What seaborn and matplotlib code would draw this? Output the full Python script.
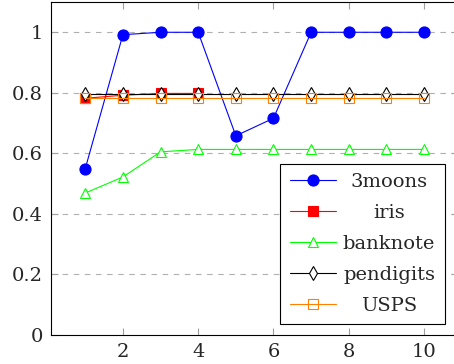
"""Accuracy per iteration for several datasets (pgfplots-style line chart)."""
import matplotlib
matplotlib.use("Agg")
import matplotlib.pyplot as plt
from matplotlib.transforms import Bbox
import seaborn as sns

x_vals = [1, 2, 3, 4, 5, 6, 7, 8, 9, 10]
moons = [0.55, 0.992, 1.0, 1.0, 0.658, 0.716, 1.0, 1.0, 1.0, 1.0]
iris_x = [1, 2, 3, 4]
iris = [0.782, 0.792, 0.798, 0.798]
banknote = [0.469, 0.522, 0.605, 0.613, 0.613, 0.613, 0.613, 0.613, 0.613, 0.613]
pendigits = [0.797] * 10
usps = [0.782] * 10
y_ticks = [0, 0.2, 0.4, 0.6, 0.8, 1]
y_labels = ["0", "0.2", "0.4", "0.6", "0.8", "1"]
x_ticks = [2, 4, 6, 8, 10]

sns.set_style("ticks")
plt.rcParams["font.family"] = ["DejaVu Serif"]
plt.rcParams["font.size"] = 14

fig = plt.figure(figsize=(4.54, 3.64), dpi=100)
ax = fig.add_axes([51.4 / 454, 29 / 364, 406.5 / 454, 333 / 364])

series = [
    ("3moons", x_vals, moons, dict(color="#0000ff", marker="o", markersize=8,
                                   markerfacecolor="#0000ff", markeredgecolor="#0000ff")),
    ("iris", iris_x, iris, dict(color="#ff0000", marker="s", markersize=7,
                                markerfacecolor="#ff0000", markeredgecolor="#ff0000")),
    ("banknote", x_vals, banknote, dict(color="#00ff00", marker="^", markersize=7,
                                        markerfacecolor="white", markeredgecolor="#00ff00")),
    ("pendigits", x_vals, pendigits, dict(color="black", marker="d", markersize=7,
                                          markerfacecolor="white", markeredgecolor="black")),
    ("USPS", x_vals, usps, dict(color="#ff8000", marker="s", markersize=7,
                                markerfacecolor="none", markeredgecolor="#ff8000")),
]
for name, xs, ys, style in series:
    sns.lineplot(x=xs, y=ys, ax=ax, label=name, linewidth=0.8,
                 markeredgewidth=0.8, **style)

ax.set_xlim(0.1, 10.9)
ax.set_ylim(0, 1.1)
ax.set_xticks(x_ticks)
ax.set_yticks(y_ticks)
ax.set_yticklabels(y_labels)
for y in y_ticks[1:]:
    ax.axhline(y, color="#b0b0b0", linestyle=(0, (5, 5)), linewidth=0.8, zorder=0)

ax.tick_params(direction="in", length=5, color="#a0a0a0", width=0.8,
               top=True, right=True, labelsize=14, pad=6)
for s in ax.spines.values():
    s.set_linewidth(0.8)
    s.set_color("black")

leg = ax.legend(loc="lower right", bbox_to_anchor=(0.968, 0.032), borderaxespad=0,
                fancybox=False, edgecolor="black", framealpha=1, fontsize=14,
                handlelength=2.36, labelspacing=0.66, handletextpad=0.36,
                borderpad=0.5)
leg.get_frame().set_linewidth(0.8)

# centre the legend labels in their column, like pgfplots does
renderer = fig.canvas.get_renderer()
areas = [row.get_children()[1]
         for col in leg._legend_handle_box.get_children()
         for row in col.get_children()]
col_w = max(a.get_bbox(renderer).width for a in areas)


def centred_bbox(area, width):
    orig = area.get_bbox

    def get_bbox(renderer):
        b = orig(renderer)
        return Bbox.from_bounds(-width / 2, b.y0, width, b.height)
    return get_bbox


for a in areas:
    a._text.set_horizontalalignment("center")
    a.get_bbox = centred_bbox(a, col_w)

fig.savefig("out.png", dpi=100)
